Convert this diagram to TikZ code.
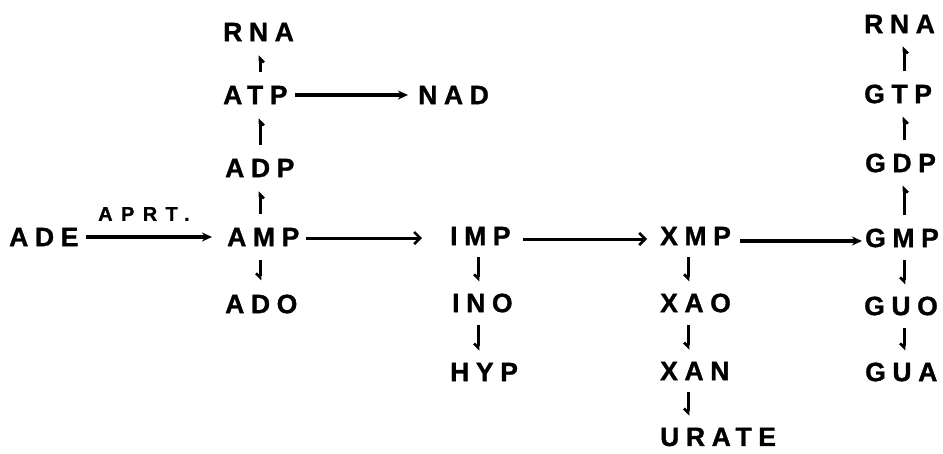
\documentclass[tikz,border=0pt]{standalone}
\usepackage{fontspec}
\newfontfamily\labfont[LetterSpace=25,BoldFeatures={FakeBold=1.2}]{Liberation Sans}
\newfontfamily\smlfont[LetterSpace=42,BoldFeatures={FakeBold=1}]{Liberation Sans}
\usetikzlibrary{arrows.meta}
\begin{document}
\begin{tikzpicture}[x=1pt,y=-1pt,
  lab/.style={font=\labfont\fontsize{26.5}{26.5}\selectfont\bfseries, inner sep=0pt, anchor=west},
  sml/.style={font=\smlfont\fontsize{20}{20}\selectfont\bfseries, inner sep=0pt, anchor=west},
  arr/.style={line width=3.2pt, -{Stealth[length=10pt,width=9pt]}},
  barb/.style={line width=3pt, -{Straight Barb[length=6pt,width=12pt,line width=2.6pt]}},
  uparr/.style={line width=3pt, -{Straight Barb[right,length=4pt,width=8pt,line width=2.6pt]}, shorten <=#1, shorten >=#1},
  uparr/.default=17pt]
\useasboundingbox (0,0) rectangle (943,453);
% column x positions of the small arrows
\coordinate (cA) at (260,0);
\coordinate (cI) at (478,0);
\coordinate (cX) at (688,0);
\coordinate (cG) at (904,0);
% nodes
\node[lab] (ADE) at (9,237) {ADE};
\node[sml] (APRT) at (98,214) {APRT.};
\node[lab] (RNA1) at (223,32) {RNA};
\node[lab] (ATP) at (223,95) {ATP};
\node[lab] (NAD) at (418,95) {NAD};
\node[lab] (ADP) at (225,168) {ADP};
\node[lab] (AMP) at (227,237) {AMP};
\node[lab] (ADO) at (225,304) {ADO};
\node[lab] (IMP) at (450,236) {IMP};
\node[lab] (INO) at (452,303) {INO};
\node[lab] (HYP) at (450,372) {HYP};
\node[lab] (XMP) at (660,236) {XMP};
\node[lab] (XAO) at (660,303) {XAO};
\node[lab] (XAN) at (660,371) {XAN};
\node[lab] (URATE) at (660,437) {URATE};
\node[lab] (RNA2) at (864,24) {RNA};
\node[lab] (GTP) at (864,94) {GTP};
\node[lab] (GDP) at (865,163) {GDP};
\node[lab] (GMP) at (865,238) {GMP};
\node[lab] (GUO) at (864,306) {GUO};
\node[lab] (GUA) at (865,372) {GUA};
% horizontal arrows
\draw[arr] ([xshift=7pt]ADE.east |- 0,237) -- ([xshift=-15pt]AMP.west |- 0,237);
\draw[barb] ([xshift=6pt]AMP.east |- 0,238) -- ([xshift=-28pt]IMP.west |- 0,238);
\draw[barb] ([xshift=12pt]IMP.east |- 0,239) -- ([xshift=-13pt]XMP.west |- 0,239);
\draw[arr] ([xshift=9pt]XMP.east |- 0,241) -- ([xshift=-3pt]GMP.west |- 0,241);
\draw[arr] ([xshift=7pt]ATP.east |- 0,95) -- ([xshift=-10pt]NAD.west |- 0,95);
% small vertical arrows
\draw[uparr=14pt] (ATP.north -| cA) -- (RNA1.south -| cA);
\draw[uparr=14pt] (ADP.north -| cA) -- (ATP.south -| cA);
\draw[uparr=14pt] (AMP.north -| cA) -- (ADP.south -| cA);
\draw[uparr=14pt] (AMP.south -| cA) -- (ADO.north -| cA);
\draw[uparr=12pt] (IMP.south -| cI) -- (INO.north -| cI);
\draw[uparr=12pt] (INO.south -| cI) -- (HYP.north -| cI);
\draw[uparr=12pt] (XMP.south -| cX) -- (XAO.north -| cX);
\draw[uparr=12pt] (XAO.south -| cX) -- (XAN.north -| cX);
\draw[uparr=12pt] (XAN.south -| cX) -- (URATE.north -| cX);
\draw[uparr=13pt] (GTP.north -| cG) -- (RNA2.south -| cG);
\draw[uparr=13pt] (GDP.north -| cG) -- (GTP.south -| cG);
\draw[uparr=13pt] (GMP.north -| cG) -- (GDP.south -| cG);
\draw[uparr=12pt] (GMP.south -| cG) -- (GUO.north -| cG);
\draw[uparr=12pt] (GUO.south -| cG) -- (GUA.north -| cG);
\end{tikzpicture}
\end{document}
